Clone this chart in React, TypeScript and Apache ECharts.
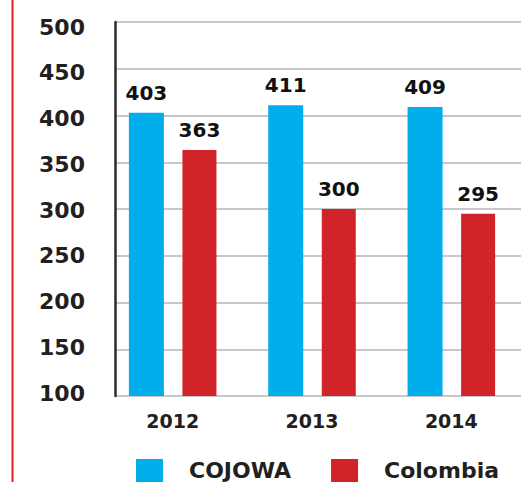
import React, { useEffect, useRef } from "react";
import * as echarts from "echarts";

const categories = ["2012", "2013", "2014"];
const cojowa = [403, 411, 409];
const colombia = [363, 300, 295];
const yTicks = ["100", "150", "200", "250", "300", "350", "400", "450", "500"];

const FONT = "DejaVu Sans";
const TEXT = "#231f20";

export default function App() {
  const ref = useRef<HTMLDivElement>(null);
  useEffect(() => {
    if (!ref.current) return;
    const chart = echarts.init(ref.current, undefined, { renderer: "svg" });
    const yMin = Number(yTicks[0]);
    const yMax = Number(yTicks[yTicks.length - 1]);
    const step = Number(yTicks[1]) - Number(yTicks[0]);
    chart.setOption({
      animation: false,
      backgroundColor: "#ffffff",
      grid: [
        { left: 103, right: -11, top: 22, bottom: 86 },
        { left: 115, right: 0, top: 22, bottom: 86 },
        { left: 115, right: 0, top: 27, bottom: 89 },
      ],
      xAxis: [
        {
          gridIndex: 0,
          type: "category",
          data: categories,
          axisLine: { show: false },
          axisTick: { show: false },
          axisLabel: { margin: 15, fontFamily: FONT, fontWeight: "bold", fontSize: 19, color: TEXT },
        },
        { gridIndex: 1, type: "category", data: categories, show: false },
        { gridIndex: 2, type: "category", data: categories, show: false },
      ],
      yAxis: [
        { gridIndex: 0, type: "value", min: yMin, max: yMax, interval: step, show: false },
        {
          gridIndex: 1,
          type: "value",
          min: yMin,
          max: yMax,
          interval: step,
          axisLine: { show: true, lineStyle: { color: "#2b2b2b", width: 2.5 } },
          axisTick: { show: false },
          axisLabel: { show: false },
          splitLine: { show: true, lineStyle: { color: "#c8c8c8", width: 2 } },
        },
        {
          gridIndex: 2,
          type: "value",
          min: yMin,
          max: yMax,
          interval: step,
          axisLine: { show: false },
          axisTick: { show: false },
          splitLine: { show: false },
          axisLabel: {
            margin: 30,
            fontFamily: FONT,
            fontWeight: "bold",
            fontSize: 22,
            color: TEXT,
            formatter: (v: number) => yTicks[Math.round((v - yMin) / step)] ?? String(v),
          },
        },
      ],
      legend: {
        left: 136,
        top: 459,
        padding: 0,
        itemWidth: 27,
        itemHeight: 23,
        itemGap: 40,
        icon: "rect",
        textStyle: {
          fontFamily: FONT,
          fontWeight: "bold",
          fontSize: 22,
          lineHeight: 22,
          color: TEXT,
          padding: [0, 0, 0, 21],
        },
        data: ["COJOWA", "Colombia"],
      },
      series: [
        {
          name: "COJOWA",
          type: "bar",
          xAxisIndex: 0,
          yAxisIndex: 0,
          data: cojowa,
          barWidth: 35,
          barGap: "53%",
          itemStyle: { color: "#00aeec" },
          label: {
            show: true,
            position: "top",
            distance: 10,
            fontFamily: FONT,
            fontWeight: "bold",
            fontSize: 20,
            color: "#111111",
          },
        },
        {
          name: "Colombia",
          type: "bar",
          xAxisIndex: 0,
          yAxisIndex: 0,
          data: colombia,
          barWidth: 34,
          itemStyle: { color: "#d1232a" },
          label: {
            show: true,
            position: "top",
            distance: 10,
            fontFamily: FONT,
            fontWeight: "bold",
            fontSize: 20,
            color: "#111111",
          },
        },
      ],
      graphic: [
        {
          type: "line",
          shape: { x1: 12.5, y1: 0, x2: 12.5, y2: 482 },
          style: { stroke: "#e51f28", lineWidth: 2 },
        },
      ],
    });
    return () => chart.dispose();
  }, []);
  return (
    <div
      ref={ref}
      style={{ position: "absolute", left: 0, top: 0, width: 521, height: 482 }}
    />
  );
}
